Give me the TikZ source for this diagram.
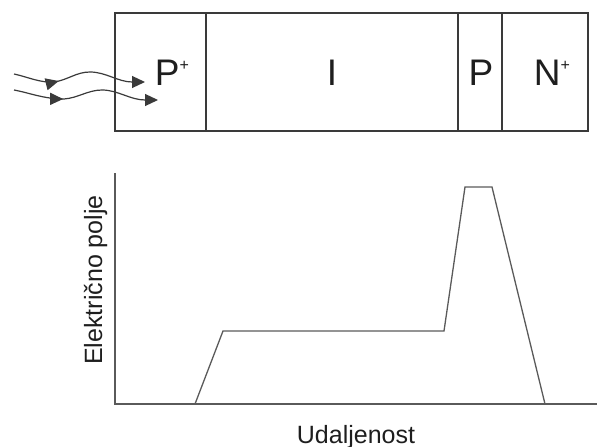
\documentclass[tikz,border=0pt]{standalone}
\usepackage{fontspec}
\setmainfont{Liberation Sans}
\usetikzlibrary{arrows.meta,decorations.markings}
\definecolor{boxline}{HTML}{3A3A3A}
\definecolor{graphline}{HTML}{5A5A5A}
\definecolor{txt}{HTML}{1E1E1E}
\newcommand{\supplus}{\raisebox{15pt}{\fontsize{16}{16}\selectfont+}}
\begin{document}
\begin{tikzpicture}[x=1pt,y=-1pt,
  region/.style={draw=boxline,line width=1.4pt,minimum height=118pt,inner sep=0pt,outer sep=0pt},
  layertext/.style={text=txt,font=\fontsize{37}{40}\selectfont,inner sep=0pt,anchor=base},
  axislabel/.style={text=txt,font=\fontsize{25}{28}\selectfont,inner sep=0pt},
  curveline/.style={draw=graphline,line width=1.3pt,line join=miter},
  photon/.style={draw=boxline,line width=1.2pt,-{Triangle[length=13pt,width=12pt]},
    postaction={decorate},decoration={markings,mark=at position 0.34 with {\arrow{Triangle[length=13pt,width=12pt]}}}}
]
\useasboundingbox (0,0) rectangle (597,447);
% layer regions
\node[region,minimum width=91pt] (rpp) at (160.5,72) {};
\node[region,minimum width=252pt] (ri) at (332,72) {};
\node[region,minimum width=44pt] (rp) at (480,72) {};
\node[region,minimum width=86pt] (rnn) at (545,72) {};
% labels
\node[layertext] (lpp) at (172,85) {P\supplus};
\node[layertext] (li) at (332,85) {I};
\node[layertext] (lp) at (481,85) {P};
\node[layertext] (lnn) at (552,85) {N\supplus};
% photons
\coordinate (p1s) at (14,74);
\coordinate (p1e) at (145,82);
\coordinate (p2s) at (14,90);
\coordinate (p2e) at (158,100);
\draw[photon] (p1s) .. controls (28,77) and (40,83) .. (54,82)
  .. controls (68,80) and (76,72) .. (90,72)
  .. controls (106,72) and (118,82) .. (p1e);
\draw[photon] (p2s) .. controls (30,93) and (44,99) .. (64,99)
  .. controls (78,98) and (88,90) .. (102,90)
  .. controls (118,90) and (130,100) .. (p2e);
% graph
\coordinate (ytop) at (115,173);
\coordinate (orig) at (115,404);
\coordinate (xend) at (597,404);
\draw[curveline] (ytop) -- (orig) -- (xend);
\coordinate (c0) at (195,404);
\coordinate (c1) at (223,331);
\coordinate (c2) at (444,331);
\coordinate (c3) at (465,187);
\coordinate (c4) at (492,187);
\coordinate (c5) at (545,404);
\draw[curveline] (c0) -- (c1) -- (c2) -- (c3) -- (c4) -- (c5);
\node[axislabel,rotate=90,anchor=base] (ylab) at (102,280) {Električno polje};
\node[axislabel,anchor=base] (xlab) at (356,443) {Udaljenost};
\end{tikzpicture}
\end{document}
